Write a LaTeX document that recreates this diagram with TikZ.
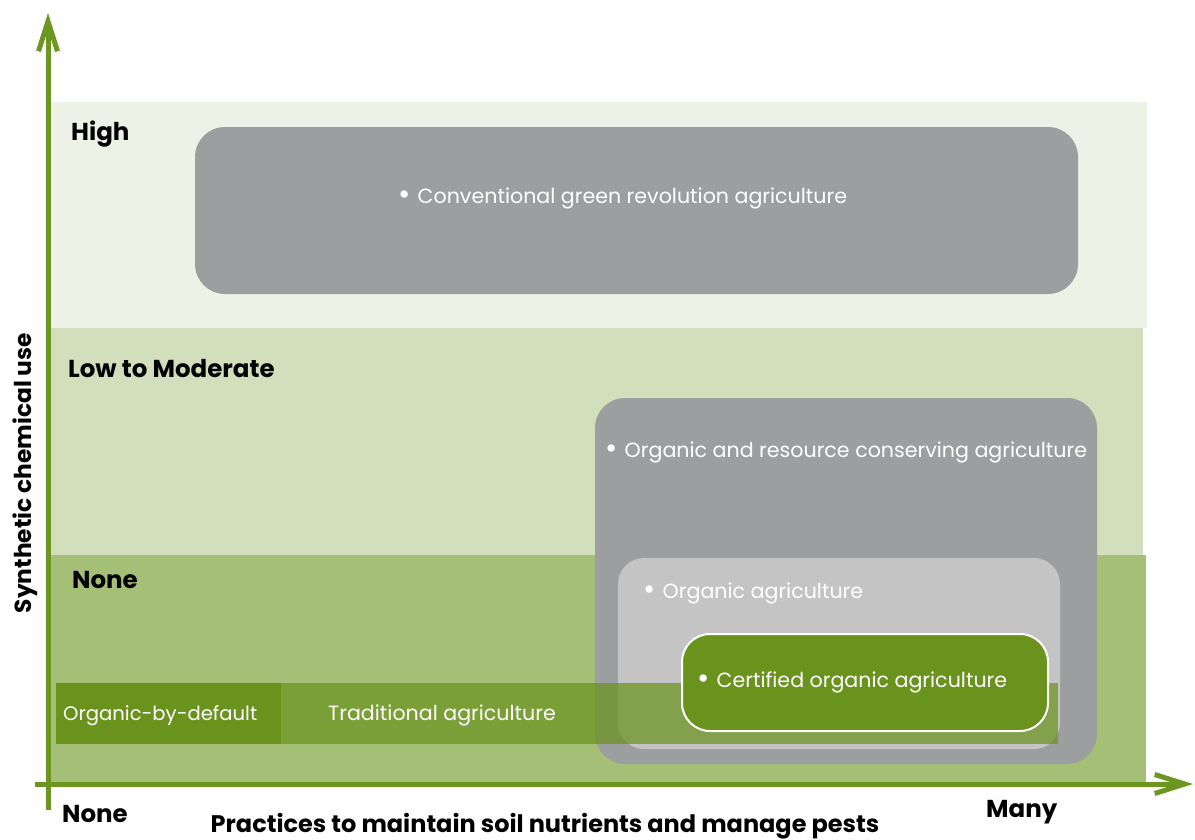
\documentclass[tikz,border=0pt]{standalone}
\usepackage{fontspec}
\setmainfont{Poppins}
\usetikzlibrary{arrows.meta}

\definecolor{axisgreen}{HTML}{6B961F}
\definecolor{bandhigh}{HTML}{EEF1E6}
\definecolor{bandlow}{HTML}{D3DEBC}
\definecolor{bandnone}{HTML}{A6BF76}
\definecolor{boxgrey}{HTML}{9D9EA0}
\definecolor{boxlight}{HTML}{C4C4C4}
\definecolor{leafgreen}{HTML}{6A931E}

% enlarged list bullet followed by a gap
\newcommand{\bul}{\raisebox{-0.1ex}{\scalebox{1.45}{\textbullet}}\hspace{0.35em}}

\tikzset{
  practice/.style={text=white, font=\fontsize{20.6}{24}\selectfont, inner sep=0pt, anchor=base west},
  level/.style={text=black, font=\fontsize{24.5}{28}\selectfont\bfseries, inner sep=0pt, anchor=base west},
  axis/.style={draw=axisgreen, line width=5pt,
    -{Straight Barb[length=30pt, width=19pt, line width=5pt]}},
}

\begin{document}
\begin{tikzpicture}[x=1pt, y=-1pt]
\useasboundingbox (0,0) rectangle (1195,839);

% chemical-use bands
\fill[bandhigh] (48,102) rectangle (1147,328);
\fill[bandlow]  (48,328) rectangle (1143,555);
\fill[bandnone] (48,555) rectangle (1146,782);

% practice groups
\fill[boxgrey, rounded corners=30pt] (195,127) rectangle (1078,294);
\fill[boxgrey, rounded corners=30pt] (595,398) rectangle (1097,764);
\fill[boxlight, rounded corners=26pt] (618,558) rectangle (1060,749);

% traditional agriculture strip
\fill[leafgreen, opacity=0.72] (56,683) rectangle (1058,744);
\fill[leafgreen] (56,683) rectangle (281,744);

% certified organic box
\filldraw[fill=leafgreen, draw=white, line width=2pt, rounded corners=28pt]
  (682,634) rectangle (1048,731);

% practice labels
\node[practice] (conv) at (398,203) {\bul Conventional green revolution agriculture};
\node[practice] (orc)  at (605,457) {\bul Organic and resource conserving agriculture};
\node[practice] (org)  at (643,598) {\bul Organic agriculture};
\node[practice] (cert) at (697,687) {\bul Certified organic agriculture};
\node[practice, font=\fontsize{19.6}{23}\selectfont] (obd)  at (63,720)  {Organic-by-default};
\node[practice] (trad) at (328,720) {Traditional agriculture};

% level labels
\node[level] (high) at (71,140)  {High};
\node[level] (low)  at (68,377)  {Low to Moderate};
\node[level] (none) at (72,588)  {None};

% axes
\coordinate (yfoot) at (48,810);
\coordinate (ytip)  at (48,13);
\coordinate (xfoot) at (35,784);
\coordinate (xtip)  at (1193,784);
\draw[axis] (yfoot) -- (ytip);
\draw[axis] (xfoot) -- (xtip);

% axis labels
\node[level] (xmin) at (62,822)  {None};
\node[level] (xmax) at (986,817) {Many};
\node[level, anchor=base, font=\fontsize{24}{28}\selectfont\bfseries] (xtitle) at (545,832) {Practices to maintain soil nutrients and manage pests};
\node[level, anchor=base, rotate=90, font=\fontsize{23.3}{27}\selectfont\bfseries] (ytitle) at (31,473) {Synthetic chemical use};
\end{tikzpicture}
\end{document}
